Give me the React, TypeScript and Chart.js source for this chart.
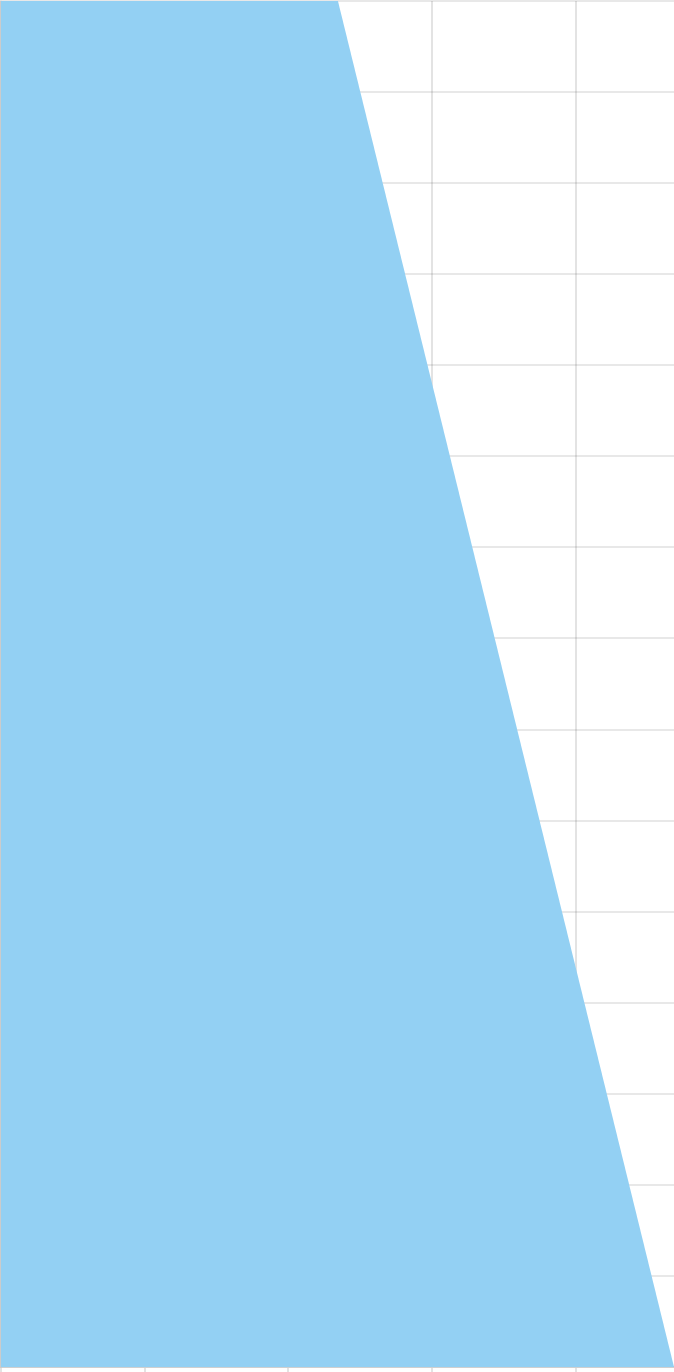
import React, { useEffect, useRef } from "react";
import { Chart, registerables } from "chart.js";

Chart.register(...registerables);

// Horizontal area: value (x) at the top row and at the bottom row of the index (y) axis
const rowPositions = [15, 0];
const areaValues = [234.4, 468.2];
const yMin = 0;
const yMax = 15;
const xMin = 0;
const xMax = 468.2;
const xStep = 100;

export default function App() {
  const ref = useRef<HTMLCanvasElement | null>(null);
  useEffect(() => {
    if (!ref.current) return;
    const points = rowPositions.map((y, i) => ({ x: areaValues[i], y }));
    const chart = new Chart(ref.current, {
      type: "line",
      data: {
        datasets: [
          {
            data: points,
            fill: "origin",
            backgroundColor: "rgb(147,208,243)",
            borderWidth: 0,
            borderColor: "rgba(0,0,0,0)",
            pointRadius: 0,
            tension: 0,
          },
        ],
      },
      options: {
        indexAxis: "y",
        responsive: false,
        animation: false,
        layout: { padding: { top: 1, left: 0, right: 0, bottom: 0 } },
        plugins: { legend: { display: false }, tooltip: { enabled: false } },
        scales: {
          x: {
            type: "linear",
            min: xMin,
            max: xMax,
            ticks: { display: false, stepSize: xStep, includeBounds: false },
            grid: { tickLength: 5, lineWidth: 2, color: "rgba(0,0,0,0.11)" },
            border: { display: true, width: 2, color: "rgba(0,0,0,0.11)" },
          },
          y: {
            type: "linear",
            min: yMin,
            max: yMax,
            ticks: { display: false, stepSize: 1 },
            grid: { tickLength: 1, lineWidth: 2, color: "rgba(0,0,0,0.09)" },
            border: { display: true, width: 2, color: "rgba(0,0,0,0.11)" },
          },
        },
      },
    });
    return () => chart.destroy();
  }, []);
  return (
    <div style={{ position: "absolute", left: 0, top: 0, width: 674, height: 1372 }}>
      <canvas ref={ref} width={674} height={1372} style={{ display: "block" }} />
    </div>
  );
}
